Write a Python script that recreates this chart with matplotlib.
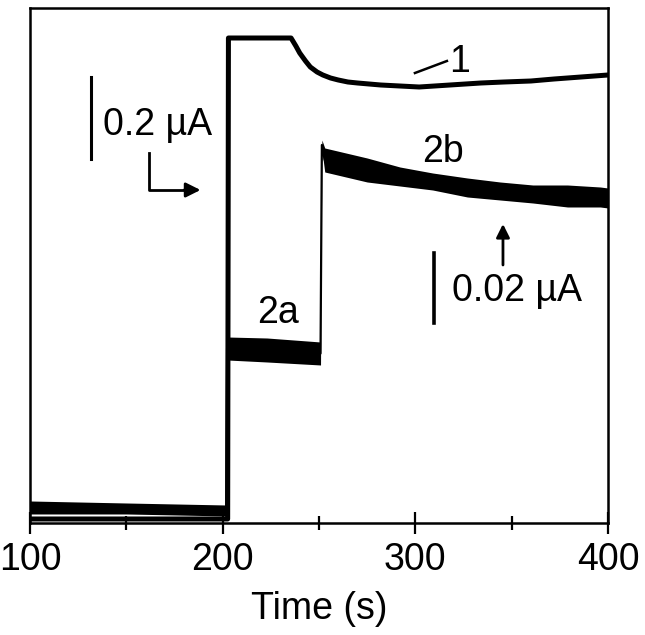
import matplotlib
matplotlib.use("Agg")
import matplotlib.pyplot as plt
import numpy as np

plt.rcParams['font.family'] = ['Liberation Sans', 'DejaVu Sans']

# Curve 1 (single line, arbitrary current units)
t1 = [100, 202.6, 203.0, 235.5, 238, 240, 243, 245.5, 249, 252, 256, 260, 265, 270,
      276, 282, 292, 302, 318, 334, 346, 360, 372, 386, 400]
i1 = [4, 4, 485, 485, 477, 470, 462, 456, 451, 448, 445, 443, 441, 440,
      439, 438, 437, 436, 438, 440, 441, 442, 444, 446, 448]

# Curve 2 (noisy band: lower and upper envelope, arbitrary units)
t2 = [100, 150, 201.8, 202.3, 223, 250.8, 251.5, 253, 275, 292, 309, 327, 344, 361, 379, 396, 400]
i2_lo = [9, 9, 7, 163, 161, 158, 373, 351, 341, 337, 333, 326, 323, 320, 316, 316, 315]
i2_hi = [22, 20, 18, 186, 185, 181, 383, 375, 365, 356, 350, 345, 341, 338, 338, 336, 335]

x_ticks = [100, 200, 300, 400]
x_minor = [150, 250, 350]

fig = plt.figure(figsize=(6.45, 6.35), dpi=100)
ax = fig.add_axes([0.0465, 0.1764, 0.8961, 0.811])

lo = np.array(i2_lo); hi = np.array(i2_hi)
ax.fill_between(t2, lo, hi, color='black', lw=0)
ax.plot(t2, (lo + hi) / 2, color='black', lw=1.6)
ax.plot(t1, i1, color='black', lw=3.6, solid_joinstyle='round')

ax.set_xlim(100, 400)
ax.set_ylim(0, 515)
ax.set_yticks([])
ax.set_xticks(x_ticks)
ax.set_xticks(x_minor, minor=True)
ax.tick_params(axis='x', which='major', direction='inout', length=16, width=1.6,
               labelsize=27, pad=6)
ax.tick_params(axis='x', which='minor', direction='inout', length=10, width=1.6)
for s in ax.spines.values():
    s.set_linewidth(1.8)
ax.set_xlabel('Time (s)', fontsize=27, labelpad=9)

fs = 27
# 0.2 uA scale bar
ax.plot([131.7, 131.7], [364, 446], color='black', lw=2.2, clip_on=False)
ax.text(137.9, 388, '0.2 µA', fontsize=fs, ha='left', va='baseline')
# L-shaped arrow
ax.plot([161.8, 161.8, 182], [370, 333, 333], color='black', lw=2.0)
ax.annotate('', xy=(188.5, 333), xytext=(180, 333),
            arrowprops=dict(arrowstyle='-|>', color='black', lw=2.0,
                            mutation_scale=22, shrinkA=0, shrinkB=0))
# labels
ax.text(323.2, 451, '1', fontsize=fs, ha='center', va='baseline')
ax.plot([299.8, 316.4], [450, 462], color='black', lw=1.8)
ax.text(303.5, 361, '2b', fontsize=fs, ha='left', va='baseline')
ax.text(228.7, 200, '2a', fontsize=fs, ha='center', va='baseline')
# up arrow
ax.annotate('', xy=(345.5, 299), xytext=(345.5, 258),
            arrowprops=dict(arrowstyle='-|>', color='black', lw=2.0,
                            mutation_scale=20, shrinkA=0, shrinkB=0))
# 0.02 uA scale bar
ax.plot([309.7, 309.7], [200, 270], color='black', lw=2.6)
ax.text(319.0, 222, '0.02 µA', fontsize=fs, ha='left', va='baseline')

fig.savefig('out.png', dpi=100)
